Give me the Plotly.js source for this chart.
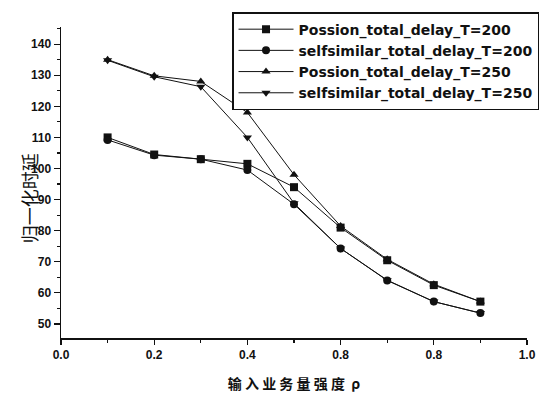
<!DOCTYPE html>
<html>
<head>
<meta charset="utf-8">
<script src="https://cdn.plot.ly/plotly-3.0.1.min.js"></script>
<style>html,body{margin:0;padding:0;background:#fff;}#chart{width:553px;height:393px;}</style>
</head>
<body>
<div id="chart"></div>
<script>
const rho = [0.1, 0.2, 0.3, 0.4, 0.5, 0.6, 0.7, 0.8, 0.9];
const poisson200 = [110, 104.5, 103, 101.5, 94, 81, 70.5, 62.5, 57.2];
const selfsim200 = [109.2, 104.3, 103, 99.5, 88.5, 74.3, 64, 57.2, 53.5];
const poisson250 = [135, 129.8, 128, 118, 98, 81.5, 70.8, 62.8, 57.2];
const selfsim250 = [134.8, 129.5, 126.3, 110, 88.8, 74.3, 64.1, 57.2, 53.5];
const seriesNames = ["Possion_total_delay_T=200", "selfsimilar_total_delay_T=200", "Possion_total_delay_T=250", "selfsimilar_total_delay_T=250"];
const xTickVals = [0, 0.2, 0.4, 0.6, 0.8, 1.0];
const xTickText = ["0.0", "0.2", "0.4", "0.8", "0.8", "1.0"];
const yTickVals = [50, 60, 70, 80, 90, 100, 110, 120, 130, 140];
const yTitle = "归一化时延";
const xTitle = "输 入 业 务 量 强 度  ρ";

const symbols = ["square", "circle", "triangle-up", "triangle-down"];
const ys = [poisson200, selfsim200, poisson250, selfsim250];
const traces = ys.map((y, i) => ({
  x: rho, y: y, name: seriesNames[i], type: "scatter", mode: "lines+markers",
  line: {color: "#111", width: 1},
  marker: {symbol: symbols[i], size: 8, color: "#111"}
}));

const font = "Liberation Sans, Arial, sans-serif";
const layout = {
  width: 553, height: 393,
  margin: {l: 61, r: 26, t: 27, b: 55},
  paper_bgcolor: "#fff", plot_bgcolor: "#fff",
  showlegend: true,
  font: {family: font, color: "#111", size: 12},
  xaxis: {
    range: [0, 1], tickvals: xTickVals, ticktext: xTickText,
    showgrid: false, zeroline: false, showline: true, linecolor: "#111", linewidth: 1.5,
    ticks: "outside", ticklen: 5, tickcolor: "#111", tickwidth: 1.2,
    minor: {dtick: 0.1, ticks: "outside", ticklen: 3, tickcolor: "#111"},
    tickfont: {family: font, size: 12, weight: "bold"},
    title: {text: xTitle, standoff: 24, font: {family: "Noto Sans CJK SC, sans-serif", size: 14, weight: "bold"}}
  },
  yaxis: {
    range: [45.5, 145.5], tickvals: yTickVals,
    showgrid: false, zeroline: false, showline: true, linecolor: "#111", linewidth: 1.5,
    ticks: "outside", ticklen: 6, tickcolor: "#111", tickwidth: 1.2,
    minor: {dtick: 5, ticks: "outside", ticklen: 3, tickcolor: "#111"},
    tickfont: {family: font, size: 12, weight: "bold"}
  },
  annotations: [{
    text: yTitle, xref: "paper", yref: "paper", x: -0.068, y: 0.45,
    xanchor: "center", yanchor: "middle", textangle: -90, showarrow: false,
    font: {family: "Noto Sans CJK SC, sans-serif", size: 18, color: "#111"}
  }],
  legend: {
    x: 0.367, y: 1.048, xanchor: "left", yanchor: "top",
    bgcolor: "#fff", bordercolor: "#111", borderwidth: 1.5,
    font: {family: "DejaVu Sans, sans-serif", size: 14, weight: "bold"},
    tracegroupgap: 0, itemwidth: 55
  }
};
Plotly.newPlot("chart", traces, layout, {displayModeBar: false, staticPlot: true});
</script>
</body>
</html>
